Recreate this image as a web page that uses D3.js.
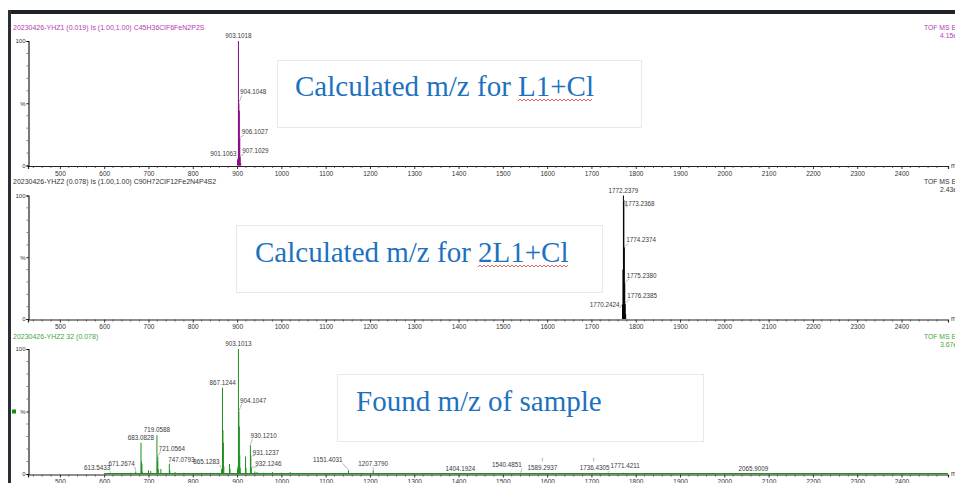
<!DOCTYPE html>
<html>
<head>
<meta charset="utf-8">
<script src="https://cdn.jsdelivr.net/npm/d3@7"></script>
<style>
html,body{margin:0;padding:0;background:#fff;}
svg{display:block;}
</style>
</head>
<body>
<svg id="chart" width="955" height="483"></svg>
<script>
// ---------------- DATA ----------------
const xDomain = [428, 2505];
const xTickValues = [500,600,700,800,900,1000,1100,1200,1300,1400,1500,1600,1700,1800,1900,2000,2100,2200,2300,2400];

const titles = [
  "20230426-YHZ1  (0.019) Is (1.00,1.00) C45H36ClF6FeN2P2S",
  "20230426-YHZ2  (0.078) Is (1.00,1.00) C90H72ClF12Fe2N4P4S2",
  "20230426-YHZ2 32 (0.078)"
];
const rightTop = ["TOF MS ES+", "TOF MS ES+", "TOF MS ES+"];
const rightIntensity = ["4.15e3", "2.43e3", "3.67e3"];
const annotations = ["Calculated m/z for L1+Cl", "Calculated m/z for 2L1+Cl", "Found m/z of sample"];
const underlined = ["L1+Cl", "2L1+Cl", null];

// panel 1: calculated L1+Cl isotope pattern [m/z, %]
const peaks1 = [[901.1063,5],[902.105,2],[903.1018,100],[904.1048,50],[905.100,44],[906.1027,22],[907.1029,7],[908.10,2]];
const labels1 = ["901.1063","903.1018","904.1048","906.1027","907.1029"];

// panel 2: calculated 2L1+Cl isotope pattern
const peaks2 = [[1770.2424,12],[1771.240,40],[1772.2379,100],[1773.2368,96],[1774.2374,58],[1775.2380,29],[1776.2385,12],[1777.24,4]];
const labels2 = ["1770.2424","1772.2379","1773.2368","1774.2374","1775.2380","1776.2385"];

// panel 3: found spectrum
const peaks3 = [[613.5433,1],[640,0.8],[660,1],[671.2674,2],[683.0828,25],[684.08,10],[685.08,8],[686.08,2],
  [700,3],[705,2.5],[719.0588,31],[720.06,10],[721.0564,14],[722.06,4],[728,4],[747.0793,8],[748.08,3],
  [760,1.5],[780,1],[800,0.8],[820,1],[840,1],[865.1283,4],[866.13,3],[867.1244,69],[868.13,35],[869.12,25],
  [870.12,6],[883,8],[884,4],[901.10,4],[902.10,6],[903.1013,100],[904.1047,50],[905.10,38],[906.10,15],
  [907.10,5],[919.1,14],[920.1,5],[930.1210,23],[931.1237,14],[932.1246,5],[940,2],[945,1.5],[960,1],
  [980,1.5],[1000,1],[1020,1.5],[1040,0.8],[1080,0.6],[1120,0.8],[1151.4031,3],[1160,0.8],[1207.3790,3],
  [1250,0.5],[1300,0.4],[1404.1924,0.6],[1450,0.4],[1540.4851,0.6],[1589.2937,0.5],[1650,0.4],
  [1736.4305,0.6],[1771.4211,1],[1850,0.4],[2065.9009,0.5],[2200,0.3]];
const labels3 = ["613.5433","671.2674","683.0828","719.0588","721.0564","747.0793","865.1283","867.1244",
  "903.1013","904.1047","930.1210","931.1237","932.1246","1151.4031","1207.3790","1404.1924","1540.4851",
  "1589.2937","1736.4305","1771.4211","2065.9009"];

// ---------------- LAYOUT / STYLE ----------------
const panels = [
  {peaks: peaks1, labels: labels1, y0: 165.5, y100: 41, titleY: 30, color: "#8a0a8a", titleColor: "#b23cb2", rightColor: "#b23cb2"},
  {peaks: peaks2, labels: labels2, y0: 319, y100: 195.5, titleY: 184, color: "#000000", titleColor: "#333333", rightColor: "#333333"},
  {peaks: peaks3, labels: labels3, y0: 474, y100: 349, titleY: 339, color: "#1f8f1f", titleColor: "#3aaa3a", rightColor: "#3aaa3a", baseline: true, marker: true}
];
// label placement: [anchor, dx, pixels above the peak top, connector]
const labelPlace = {
  "903.1018":["middle",0,3,false], "904.1048":["start",1,9,true], "906.1027":["start",2,4,true],
  "907.1029":["start",2,4,true], "901.1063":["end",-1,3,true],
  "1772.2379":["middle",0,3,false], "1773.2368":["start",1,-6,true], "1774.2374":["start",2,5,true],
  "1775.2380":["start",2,5,true], "1776.2385":["start",2,6,true], "1770.2424":["end",-3,-3,true],
  "903.1013":["middle",0,3,false], "867.1244":["middle",0,3,false], "904.1047":["start",1,9,true],
  "719.0588":["middle",0,3,false], "683.0828":["middle",0,3,false], "930.1210":["start",0,7,true],
  "931.1237":["start",2,2,true], "932.1246":["start",4,2,true], "721.0564":["start",1,6,true],
  "747.0793":["start",-1,2,true], "865.1283":["end",-2,5,true], "671.2674":["end",-1,6,true],
  "613.5433":["end",0,3,true], "1151.4031":["end",-6,8,true], "1207.3790":["middle",0,4,true],
  "1404.1924":["middle",0,2,false], "1540.4851":["end",1,6,true], "1589.2937":["middle",0,3,false],
  "1736.4305":["end",2,3,true], "1771.4211":["middle",2,5,false], "2065.9009":["middle",0,2,false]
};
const boxes = [
  {x: 277, y: 60, w: 364, h: 67, tx: 295, ty: 96},
  {x: 236, y: 225, w: 366, h: 67, tx: 255, ty: 262},
  {x: 337, y: 374, w: 366, h: 67, tx: 356, ty: 411}
];
const smallFont = "Liberation Sans, Arial, sans-serif";
const serifFont = "Liberation Serif, Times New Roman, serif";

// ---------------- DRAW ----------------
const svg = d3.select("#chart");
const W = 955;
const x = d3.scaleLinear().domain(xDomain).range([28, 948]);

// outer frame
svg.append("rect").attr("x", 9).attr("y", 10).attr("width", W).attr("height", 4).attr("fill", "#1e2329");
svg.append("rect").attr("x", 8).attr("y", 10).attr("width", 3).attr("height", 483).attr("fill", "#2a2f35");

panels.forEach((p, i) => {
  const y = d3.scaleLinear().domain([0, 100]).range([p.y0, p.y100]);
  const g = svg.append("g");

  // title
  g.append("text").attr("x", 13).attr("y", p.titleY).text(titles[i])
    .attr("font-family", smallFont).attr("font-size", 7).attr("fill", p.titleColor);
  g.append("text").attr("x", 924).attr("y", p.titleY).text(rightTop[i])
    .attr("font-family", smallFont).attr("font-size", 6.8).attr("fill", p.rightColor);
  g.append("text").attr("x", 940).attr("y", p.titleY + 8).text(rightIntensity[i])
    .attr("font-family", smallFont).attr("font-size", 6.8).attr("fill", p.rightColor);

  // x axis
  const xAxis = d3.axisBottom(x).tickValues(xTickValues).tickSize(3).tickPadding(2).tickFormat(d3.format("d"));
  const ax = g.append("g").attr("transform", `translate(0,${p.y0 + 0.5})`).call(xAxis);
  ax.select(".domain").attr("stroke", "#222").attr("stroke-width", 1.2);
  ax.selectAll(".tick line").attr("stroke", "#333");
  ax.selectAll(".tick text").attr("font-family", smallFont).attr("font-size", 6.5).attr("fill", "#333");
  const minor = d3.range(440, 2501, 20).filter(v => v % 100 !== 0);
  g.append("g").selectAll("line").data(minor).join("line")
    .attr("x1", d => x(d)).attr("x2", d => x(d))
    .attr("y1", p.y0 + 0.5).attr("y2", p.y0 + 2.5).attr("stroke", "#444").attr("stroke-width", 0.8);
  g.append("text").attr("x", 951).attr("y", p.y0 + 2).text("m/z")
    .attr("font-family", smallFont).attr("font-size", 6.5).attr("fill", "#333");

  // y axis
  const yAxis = d3.axisLeft(y).tickValues([0, 50, 100]).tickSize(2).tickPadding(1)
    .tickFormat(d => d === 50 ? "%" : d);
  const ay = g.append("g").attr("transform", "translate(28.5,0)").call(yAxis);
  ay.select(".domain").attr("stroke", "#222").attr("stroke-width", 1.2);
  ay.selectAll(".tick text").attr("font-family", smallFont).attr("font-size", 6).attr("fill", "#333");
  g.append("g").selectAll("line").data(d3.range(10, 100, 10).filter(v => v !== 50)).join("line")
    .attr("x1", 28).attr("x2", 26.5).attr("y1", d => y(d)).attr("y2", d => y(d))
    .attr("stroke", "#444").attr("stroke-width", 0.7);

  if (p.marker) {
    g.append("rect").attr("x", 12).attr("y", y(50) - 2).attr("width", 4).attr("height", 4).attr("fill", "#129012");
  }
  if (p.baseline) {
    g.append("line").attr("x1", x(600)).attr("x2", x(2505)).attr("y1", p.y0 - 0.3).attr("y2", p.y0 - 0.3)
      .attr("stroke", p.color).attr("stroke-width", 1.3);
  }

  // peaks
  g.append("g").selectAll("line").data(p.peaks).join("line")
    .attr("x1", d => x(d[0])).attr("x2", d => x(d[0]))
    .attr("y1", p.y0).attr("y2", d => y(d[1]))
    .attr("stroke", p.color).attr("stroke-width", 1);

  // labels
  const lg = g.append("g");
  p.labels.forEach(t => {
    const pk = p.peaks.find(d => d[0].toFixed(4) === t);
    if (!pk) return;
    const [anchor, dx, up, conn] = labelPlace[t];
    const px = x(pk[0]), py = y(pk[1]);
    const ly = py - up;
    lg.append("text").attr("x", px + dx).attr("y", ly).attr("text-anchor", anchor).text(t)
      .attr("font-family", smallFont).attr("font-size", 6.3).attr("fill", "#3a3a3a");
    if (conn) {
      const cx = anchor === "end" ? px + dx : anchor === "start" ? px + dx + 2 : px + dx;
      lg.append("line").attr("x1", cx).attr("y1", ly + 1).attr("x2", px).attr("y2", Math.min(py, p.y0) - 0.5)
        .attr("stroke", "#888").attr("stroke-width", 0.6);
    }
  });
  if (i === 2) {
    ["1589.2937", "1736.4305"].forEach(t => {
      const pk = p.peaks.find(d => d[0].toFixed(4) === t);
      const off = t === "1736.4305" ? -14 : 0;
      lg.append("text").attr("x", x(pk[0]) + off).attr("y", y(pk[1]) - 11).attr("text-anchor", "middle").text("!")
        .attr("font-family", smallFont).attr("font-size", 6).attr("fill", "#555");
    });
  }

  // annotation box
  const b = boxes[i];
  svg.append("rect").attr("x", b.x + 0.5).attr("y", b.y + 0.5).attr("width", b.w).attr("height", b.h)
    .attr("fill", "#ffffff").attr("stroke", "#e9e9e9").attr("stroke-width", 1);
  const txt = svg.append("text").attr("x", b.tx).attr("y", b.ty).text(annotations[i])
    .attr("font-family", serifFont).attr("font-size", 29).attr("fill", "#1d72c0");
  if (underlined[i]) {
    const full = annotations[i];
    const start = full.indexOf(underlined[i]);
    const node = txt.node();
    const x0 = b.tx + node.getSubStringLength(0, start);
    const w = node.getSubStringLength(start, underlined[i].length);
    const uy = b.ty + 4;
    const pts = d3.range(0, Math.floor(w / 2) + 1).map(k => [x0 + k * 2, uy + (k % 2 ? -1 : 1)]);
    svg.append("path").attr("d", d3.line()(pts)).attr("fill", "none").attr("stroke", "#e03030").attr("stroke-width", 0.8);
  }
});
</script>
</body>
</html>
